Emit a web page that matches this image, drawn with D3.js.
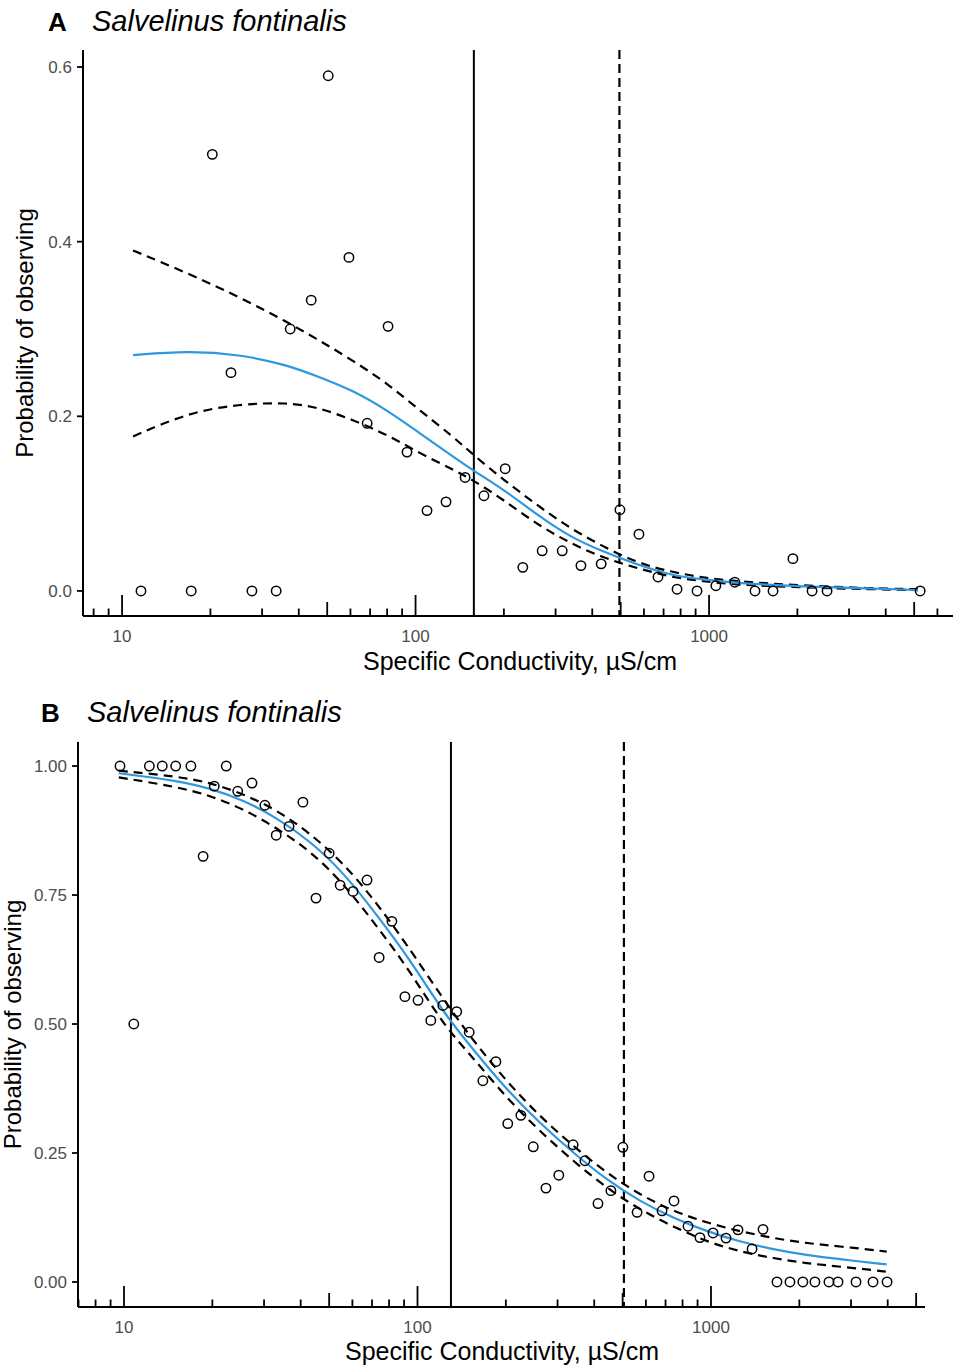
<!DOCTYPE html>
<html><head><meta charset="utf-8">
<script src="https://cdn.jsdelivr.net/npm/d3@7"></script>
<style>body{margin:0;background:#fff} svg{display:block}</style>
</head><body><svg id="c" width="955" height="1367"></svg>
<script>
// ---------- Panel A data ----------
const aCond = [11.6, 17.2, 20.3, 23.5, 27.7, 33.5, 37.4, 44.1, 50.4, 59.3, 68.4, 80.6, 93.5, 109.4, 127, 147.5, 171, 202, 232, 270, 316, 366, 429, 497, 577, 670, 778, 910, 1055, 1224, 1434, 1652, 1931, 2244, 2524, 5240];
const aProb = [0, 0, 0.500, 0.250, 0, 0, 0.300, 0.333, 0.590, 0.382, 0.192, 0.303, 0.159, 0.092, 0.102, 0.130, 0.109, 0.140, 0.027, 0.046, 0.046, 0.029, 0.031, 0.093, 0.065, 0.016, 0.002, 0, 0.006, 0.010, 0, 0, 0.037, 0, 0, 0];
const aFitCond = [10.9, 16.7, 25, 36.5, 47, 61, 80, 103, 134, 157, 200, 260, 335, 435, 570, 740, 955, 1240, 2090, 3530, 5150];
const aFit   = [0.270, 0.275, 0.271, 0.259, 0.245, 0.230, 0.207, 0.181, 0.154, 0.138, 0.116, 0.087, 0.062, 0.045, 0.030, 0.018, 0.013, 0.009, 0.005, 0.003, 0.001];
const aUpper = [0.390, 0.364, 0.337, 0.308, 0.287, 0.264, 0.238, 0.207, 0.177, 0.156, 0.127, 0.098, 0.072, 0.051, 0.032, 0.022, 0.015, 0.011, 0.006, 0.003, 0.002];
const aLower = [0.177, 0.204, 0.214, 0.216, 0.210, 0.196, 0.179, 0.158, 0.139, 0.127, 0.104, 0.076, 0.055, 0.038, 0.026, 0.016, 0.011, 0.007, 0.004, 0.002, 0.001];
const aSolidLine = 158;
const aDashedLine = 495;
const aYTicks = [0, 0.2, 0.4, 0.6];

// ---------- Panel B data ----------
const bCond = [9.69, 12.2, 13.5, 15.0, 16.9, 22.3, 20.3, 18.6, 24.4, 27.3, 30.2, 40.7, 33.0, 36.5, 45.1, 50.0, 54.5, 60.3, 67.3, 81.8, 10.8, 74.0, 90.6, 100.4, 111, 122, 136, 150, 167, 185, 203, 225, 248, 274, 303, 339, 372, 412, 456, 501, 560, 615, 681, 748, 835, 917, 1016, 1125, 1236, 1380, 1504, 1678, 1858, 2056, 2260, 2523, 2709, 3120, 3565, 3980];
const bProb = [1, 1, 1, 1, 1, 1, 0.961, 0.825, 0.951, 0.967, 0.924, 0.930, 0.866, 0.883, 0.744, 0.831, 0.769, 0.757, 0.779, 0.699, 0.5, 0.629, 0.553, 0.546, 0.507, 0.536, 0.524, 0.484, 0.390, 0.427, 0.307, 0.323, 0.262, 0.182, 0.207, 0.266, 0.235, 0.152, 0.177, 0.261, 0.135, 0.205, 0.138, 0.157, 0.108, 0.086, 0.095, 0.085, 0.101, 0.064, 0.102, 0, 0, 0, 0, 0, 0, 0, 0, 0];
const bFitCond = [9.6, 15.1, 19.6, 25.5, 33.1, 43, 55.9, 72.6, 94.3, 122.5, 155, 201, 261, 340, 441, 573, 744, 967, 1255, 1630, 2117, 2750, 3970];
const bFit   = [0.986, 0.972, 0.957, 0.934, 0.900, 0.855, 0.794, 0.712, 0.625, 0.522, 0.450, 0.373, 0.308, 0.250, 0.198, 0.156, 0.124, 0.098, 0.078, 0.063, 0.052, 0.044, 0.034];
const bUpper = [0.991, 0.980, 0.968, 0.946, 0.915, 0.870, 0.812, 0.735, 0.645, 0.548, 0.467, 0.389, 0.321, 0.263, 0.211, 0.169, 0.137, 0.115, 0.098, 0.085, 0.075, 0.069, 0.059];
const bLower = [0.978, 0.960, 0.943, 0.917, 0.880, 0.836, 0.773, 0.690, 0.603, 0.498, 0.434, 0.357, 0.292, 0.234, 0.182, 0.140, 0.107, 0.078, 0.059, 0.046, 0.036, 0.030, 0.020];
const bSolidLine = 130;
const bDashedLine = 505;
const bYTicks = [0, 0.25, 0.5, 0.75, 1];

const xTickLabels = [10, 100, 1000];
const speciesName = "Salvelinus fontinalis";
const xTitle = "Specific Conductivity, µS/cm";
const yTitle = "Probability of observing";

// ---------- drawing ----------
const svg = d3.select("#c");
const FONT = "'Liberation Sans', Arial, Helvetica, sans-serif";
const BLUE = "#2e97e0";

function panel(cfg) {
  const g = svg.append("g");
  const x = d3.scaleLog().domain(cfg.xDomain).range([cfg.left, cfg.right]);
  const y = d3.scaleLinear().domain(cfg.yDomain).range([cfg.bottom, cfg.top]);

  // tag + title
  g.append("text").attr("x", cfg.tagX).attr("y", cfg.titleY)
    .attr("font-family", FONT).attr("font-size", 26).attr("font-weight", "bold").text(cfg.tag);
  g.append("text").attr("x", cfg.titleX).attr("y", cfg.titleY)
    .attr("font-family", FONT).attr("font-size", 29).attr("font-style", "italic").text(speciesName);

  // vertical reference lines
  g.append("line").attr("x1", x(cfg.solid)).attr("x2", x(cfg.solid))
    .attr("y1", cfg.top).attr("y2", cfg.bottom).attr("stroke", "#000").attr("stroke-width", 2);
  g.append("line").attr("x1", x(cfg.dashed)).attr("x2", x(cfg.dashed))
    .attr("y1", cfg.top).attr("y2", cfg.bottom).attr("stroke", "#000").attr("stroke-width", 2.2)
    .attr("stroke-dasharray", "9,5");

  // fitted curve and confidence bounds
  const line = d3.line().x(d => x(d[0])).y(d => y(d[1])).curve(d3.curveBasis);
  const fc = cfg.fitCond;
  [cfg.upper, cfg.lower].forEach(arr => {
    g.append("path").attr("d", line(fc.map((c, i) => [c, arr[i]])))
      .attr("fill", "none").attr("stroke", "#000").attr("stroke-width", 2.2)
      .attr("stroke-dasharray", "9,6");
  });
  g.append("path").attr("d", line(fc.map((c, i) => [c, cfg.fit[i]])))
    .attr("fill", "none").attr("stroke", BLUE).attr("stroke-width", 2.2);

  // points
  g.selectAll("circle.pt").data(cfg.cond.map((c, i) => [c, cfg.prob[i]])).enter()
    .append("circle").attr("class", "pt")
    .attr("cx", d => x(d[0])).attr("cy", d => y(d[1])).attr("r", 4.7)
    .attr("fill", "none").attr("stroke", "#000").attr("stroke-width", 1.5);

  // axes lines
  g.append("line").attr("x1", cfg.left).attr("x2", cfg.left).attr("y1", cfg.top).attr("y2", cfg.bottom)
    .attr("stroke", "#000").attr("stroke-width", 2);
  g.append("line").attr("x1", cfg.left).attr("x2", cfg.right).attr("y1", cfg.bottom).attr("y2", cfg.bottom)
    .attr("stroke", "#000").attr("stroke-width", 2);

  // y ticks
  cfg.yTicks.forEach(t => {
    g.append("line").attr("x1", cfg.left - 6).attr("x2", cfg.left).attr("y1", y(t)).attr("y2", y(t))
      .attr("stroke", "#000").attr("stroke-width", 1.8);
    g.append("text").attr("x", cfg.left - 11).attr("y", y(t)).attr("dy", "0.36em")
      .attr("text-anchor", "end").attr("font-family", FONT).attr("font-size", 17)
      .attr("fill", "#4d4d4d").text(d3.format(cfg.yFormat)(t));
  });

  // log ticks (inside, from the x axis upward)
  const [d0, d1] = cfg.xDomain;
  for (let e = 0; e <= 4; e++) {
    for (let m = 1; m <= 9; m++) {
      const v = m * Math.pow(10, e);
      if (v < d0 || v > d1) continue;
      const len = m === 1 ? 21 : (m === 5 ? 14 : 7.5);
      g.append("line").attr("x1", x(v)).attr("x2", x(v))
        .attr("y1", cfg.bottom).attr("y2", cfg.bottom - len)
        .attr("stroke", "#000").attr("stroke-width", 1.8);
    }
  }
  xTickLabels.forEach(t => {
    g.append("text").attr("x", x(t)).attr("y", cfg.bottom + 26).attr("text-anchor", "middle")
      .attr("font-family", FONT).attr("font-size", 17).attr("fill", "#4d4d4d").text(t);
  });

  // axis titles
  g.append("text").attr("x", cfg.xTitleX).attr("y", cfg.xTitleY).attr("text-anchor", "middle")
    .attr("font-family", FONT).attr("font-size", 25).attr("fill", "#000").text(xTitle);
  g.append("text").attr("transform", `translate(${cfg.yTitleX},${(cfg.top + cfg.bottom) / 2}) rotate(-90)`)
    .attr("text-anchor", "middle").attr("font-family", FONT).attr("font-size", 24)
    .attr("fill", "#000").text(yTitle);
}

panel({
  tag: "A", tagX: 48, titleX: 92, titleY: 31,
  left: 83, right: 953, top: 50, bottom: 616,
  xDomain: [7.36, 6780], yDomain: [-0.0287, 0.6195],
  yTicks: aYTicks, yFormat: ".1f",
  cond: aCond, prob: aProb, fitCond: aFitCond, fit: aFit, upper: aUpper, lower: aLower,
  solid: aSolidLine, dashed: aDashedLine,
  xTitleX: 520, xTitleY: 670, yTitleX: 33
});

panel({
  tag: "B", tagX: 41, titleX: 87, titleY: 722,
  left: 78, right: 925, top: 742, bottom: 1307,
  xDomain: [6.97, 5360], yDomain: [-0.0485, 1.0466],
  yTicks: bYTicks, yFormat: ".2f",
  cond: bCond, prob: bProb, fitCond: bFitCond, fit: bFit, upper: bUpper, lower: bLower,
  solid: bSolidLine, dashed: bDashedLine,
  xTitleX: 502, xTitleY: 1360, yTitleX: 21
});
</script></body></html>
